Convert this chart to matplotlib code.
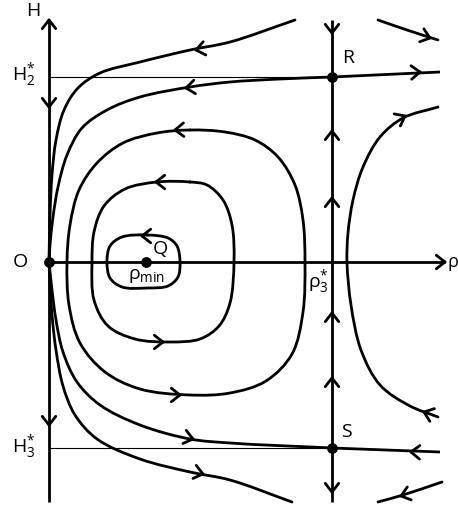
import numpy as np
import matplotlib
matplotlib.use("Agg")
import matplotlib.pyplot as plt
from matplotlib.path import Path
from matplotlib.patches import PathPatch

plt.rcParams['font.family'] = ['Open Sans', 'DejaVu Sans']
plt.rcParams['mathtext.fontset'] = 'custom'
plt.rcParams['mathtext.rm'] = 'Open Sans'
plt.rcParams['mathtext.it'] = 'Open Sans:italic'
plt.rcParams['mathtext.bf'] = 'Open Sans:bold'

# ---- data (picture coordinates, y downward) ----
h_axis = [(49, 502), (49, 20)]
rho_axis = [(49, 262), (445, 262)]
vert_line = [(332, 20), (332, 502)]
h2_line = [(49, 77), (332, 77)]
h3_line = [(49, 448), (332, 448)]

top_curve = [(295, 20), (230, 42), (190, 50), (140, 62), (100, 73), (78, 88), (64, 110),
             (56, 140), (52, 175), (50, 215), (49, 262)]
r_curve_left = [(332, 77), (280, 79), (230, 82), (190, 87), (140, 97), (107, 110), (82, 128),
                (67, 155), (58, 187), (53, 217), (50, 245), (49, 262)]
orbit3 = [(190, 130), (157, 133), (123, 143), (97, 163), (79, 190), (70, 225), (67, 262),
          (69, 305), (80, 343), (105, 372), (140, 389), (190, 395), (230, 393), (266, 381),
          (292, 354), (303, 312), (305, 262), (303, 220), (295, 185), (278, 157), (255, 140),
          (225, 132)]
orbit2 = [(190, 182), (157, 182), (125, 189), (104, 206), (94, 232), (92, 262), (94, 300),
          (108, 326), (135, 339), (170, 342), (200, 339), (219, 326), (230, 303), (234, 262),
          (232, 225), (223, 200), (207, 185)]
orbit1 = [(147, 235), (122, 237), (110, 246), (107, 262), (110, 278), (122, 287), (147, 288),
          (168, 286), (178, 277), (180, 262), (177, 246), (168, 238)]
s_curve_left = [(49, 262), (52, 290), (56, 320), (63, 352), (77, 382), (100, 405), (140, 425),
                (190, 439), (230, 443), (332, 448)]
outer_lower = [(49, 262), (50, 285), (52, 315), (56, 350), (63, 386), (75, 415), (97, 439),
               (140, 459), (190, 472), (230, 480), (292, 502)]
right_curve = [(438, 107), (403, 118), (380, 137), (363, 167), (353, 200), (348, 233),
               (347, 262), (351, 305), (361, 350), (380, 385), (410, 406), (438, 417)]
top_right = [(378, 20), (407, 30), (438, 40)]
r_right = [(332, 77), (440, 72)]
s_right = [(332, 448), (440, 452)]
bottom_right = [(442, 482), (403, 495), (378, 502)]

# chevron arrows: x, y, direction (deg, counter-clockwise from right, screen up positive)
arrow_x = [49, 49, 49, 445, 332, 332, 332, 332, 332, 332,
           196, 186, 175, 156, 142, 163, 180, 193, 203,
           430, 420, 405, 424, 411, 401]
arrow_y = [20, 107, 425, 262, 33, 131, 198, 313, 378, 492,
           50, 88, 130, 182, 236, 342, 395, 439, 474,
           38, 72, 116, 412, 452, 496]
arrow_ang = [90, 270, 270, 0, 270, 90, 90, 90, 90, 270,
             191, 187, 182, 180, 180, 0, 0, -14, -14,
             -18, 3, 27, 160, 178, 197]

dots_x = [49, 332, 332, 146]
dots_y = [262, 77, 448, 262]

labels = [
    (33, 11, r'H', 'center'),
    (24, 75, r'$\mathrm{H}_{2}^{*}$', 'center'),
    (24, 447, r'$\mathrm{H}_{3}^{*}$', 'center'),
    (20, 262, r'O', 'center'),
    (348, 58, r'R', 'center'),
    (346, 432, r'S', 'center'),
    (160, 249, r'Q', 'center'),
    (147, 276, r'$\mathrm{\rho}_{\mathrm{min}}$', 'center'),
    (318, 282, r'$\mathrm{\rho}_{3}^{*}$', 'center'),
    (447, 264, r'$\mathrm{\rho}$', 'left'),
]

LW = 2.0
fig = plt.figure(figsize=(4.58, 5.12), dpi=100)
ax = fig.add_axes([0, 0, 1, 1])
ax.set_xlim(0, 458)
ax.set_ylim(512, 0)
ax.axis('off')


def smooth_path(pts, closed=False, alpha=0.5):
    """Centripetal Catmull-Rom through the points, drawn as cubic Bezier segments."""
    P = np.asarray(pts, float)
    n = len(P)
    verts = [P[0]]
    codes = [Path.MOVETO]
    segs = n if closed else n - 1
    for i in range(segs):
        if closed:
            p0, p1, p2, p3 = P[(i - 1) % n], P[i % n], P[(i + 1) % n], P[(i + 2) % n]
        else:
            p1, p2 = P[i], P[i + 1]
            p0 = P[i - 1] if i > 0 else 2 * p1 - p2
            p3 = P[i + 2] if i + 2 < n else 2 * p2 - p1
        d0 = max(np.linalg.norm(p1 - p0) ** alpha, 1e-6)
        d1 = max(np.linalg.norm(p2 - p1) ** alpha, 1e-6)
        d2 = max(np.linalg.norm(p3 - p2) ** alpha, 1e-6)
        m1 = d1 * ((p1 - p0) / d0 - (p2 - p0) / (d0 + d1) + (p2 - p1) / d1)
        m2 = d1 * ((p2 - p1) / d1 - (p3 - p1) / (d1 + d2) + (p3 - p2) / d2)
        verts += [p1 + m1 / 3.0, p2 - m2 / 3.0, p2]
        codes += [Path.CURVE4] * 3
    return Path(verts, codes)


def draw_curve(pts, closed=False, lw=LW):
    ax.add_patch(PathPatch(smooth_path(pts, closed), fill=False, lw=lw, color='black',
                           capstyle='round', joinstyle='round'))


def draw_line(pts, lw=LW):
    xs, ys = zip(*pts)
    ax.plot(xs, ys, color='black', lw=lw, solid_capstyle='butt')


for ln in (h_axis, rho_axis, vert_line):
    draw_line(ln)
for ln in (h2_line, h3_line):
    draw_line(ln, lw=0.8)
for c in (top_curve, r_curve_left, s_curve_left, outer_lower, right_curve, top_right,
          bottom_right):
    draw_curve(c)
for c in (orbit1, orbit2, orbit3):
    draw_curve(c, closed=True)
for ln in (r_right, s_right):
    draw_line(ln)

L = 11
half = np.radians(38)
for x, y, a in zip(arrow_x, arrow_y, arrow_ang):
    t = np.radians(a)
    d = np.array([np.cos(t), -np.sin(t)])
    for s in (1, -1):
        b = half * s
        r = np.array([d[0] * np.cos(b) - d[1] * np.sin(b), d[0] * np.sin(b) + d[1] * np.cos(b)])
        ax.plot([x - L * r[0], x], [y - L * r[1], y], color='black', lw=LW,
                solid_capstyle='round')

ax.scatter(dots_x, dots_y, s=45, color='black', zorder=5)

for x, y, s, ha in labels:
    ax.text(x, y, s, fontsize=14 if ha == 'center' else 13, ha=ha, va='center',
            color='black')

fig.savefig('out.png', dpi=100)
